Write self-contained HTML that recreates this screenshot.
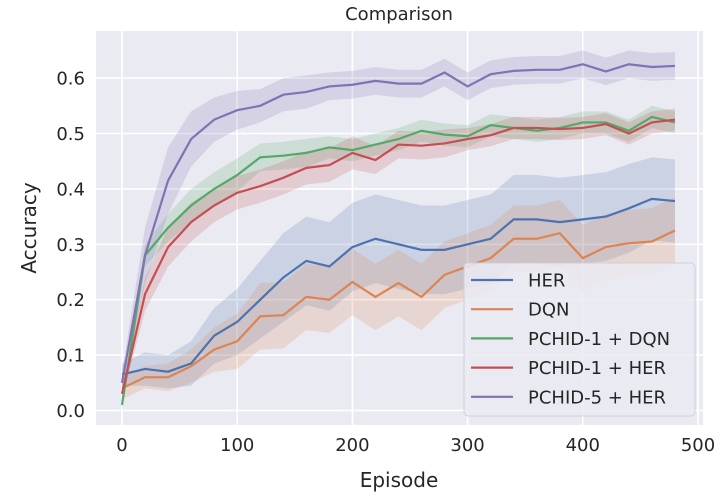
<!DOCTYPE html><html><head><meta charset="utf-8"><style>body{margin:0;background:#fff}svg{display:block}text{font-family:"DejaVu Sans",sans-serif;fill:#262626}</style></head><body>
<svg id="s" width="726" height="500" viewBox="0 0 726 500"></svg>
<script>
const X=v=>122+v*1.152, Y=v=>410.5-v*554;
const xs=[...Array(25)].map((_,i)=>i*20);
const D=[
["#4c72b0",[.065,.075,.07,.085,.135,.16,.2,.24,.27,.26,.295,.31,.3,.29,.29,.3,.31,.345,.345,.34,.345,.35,.365,.382,.378],[.02,.03,.03,.04,.05,.06,.07,.08,.08,.08,.08,.08,.08,.08,.08,.08,.08,.08,.08,.08,.08,.08,.08,.075,.075]],
["#dd8452",[.04,.06,.06,.08,.11,.125,.17,.172,.205,.2,.232,.205,.23,.205,.245,.26,.275,.31,.31,.32,.275,.295,.302,.305,.325],[.02,.02,.025,.03,.04,.05,.06,.06,.06,.06,.06,.06,.06,.06,.06,.06,.06,.06,.06,.06,.06,.06,.06,.06,.06]],
["#55a868",[.01,.28,.33,.37,.4,.425,.457,.46,.465,.475,.47,.48,.49,.505,.498,.495,.515,.51,.505,.51,.52,.52,.505,.53,.52],[.01,.02,.025,.03,.03,.03,.025,.025,.025,.02,.02,.02,.02,.02,.02,.02,.02,.02,.02,.02,.02,.02,.02,.02,.02]],
["#c44e52",[.03,.21,.295,.34,.37,.393,.405,.42,.438,.443,.465,.452,.48,.478,.482,.49,.497,.51,.51,.508,.51,.517,.5,.52,.525],[.01,.03,.035,.035,.03,.03,.03,.03,.03,.03,.03,.025,.025,.025,.025,.02,.02,.02,.02,.02,.02,.02,.02,.02,.02]],
["#8172b3",[.05,.28,.415,.49,.525,.542,.55,.57,.575,.585,.588,.595,.59,.59,.61,.585,.607,.613,.615,.615,.625,.612,.625,.62,.622],[.02,.05,.06,.05,.04,.035,.03,.03,.03,.025,.025,.025,.025,.025,.025,.025,.025,.025,.025,.025,.025,.025,.025,.025,.025]]];
let h='<rect x="96" y="31" width="607" height="394" fill="#eaeaf2"/>';
for(let v=0;v<=500;v+=100){const x=X(v);h+=`<line x1="${x}" x2="${x}" y1="31" y2="425" stroke="#fff" stroke-width="1.6"/><text x="${x}" y="451" font-size="18" text-anchor="middle">${v}</text>`;}
for(let i=0;i<=6;i++){const y=Y(i/10);h+=`<line x1="96" x2="703" y1="${y}" y2="${y}" stroke="#fff" stroke-width="1.6"/><text x="85" y="${y+6.5}" font-size="18" text-anchor="end">${(i/10).toFixed(1)}</text>`;}
D.forEach(([c,m,e])=>{let up=xs.map((x,i)=>X(x)+','+Y(m[i]+e[i])),lo=xs.map((x,i)=>X(x)+','+Y(m[i]-e[i])).reverse();h+=`<polygon points="${up.concat(lo).join(' ')}" fill="${c}" fill-opacity="0.2"/>`;});
D.forEach(([c,m])=>{h+=`<polyline points="${xs.map((x,i)=>X(x)+','+Y(m[i])).join(' ')}" fill="none" stroke="${c}" stroke-width="2.2"/>`;});
h+='<rect x="464" y="263" width="231" height="153" rx="4" fill="#eaeaf2" fill-opacity="0.85" stroke="#d0d0d8"/>';
["HER","DQN","PCHID-1 + DQN","PCHID-1 + HER","PCHID-5 + HER"].forEach((t,i)=>{const y=280+i*29.2;h+=`<line x1="471" x2="513" y1="${y}" y2="${y}" stroke="${D[i][0]}" stroke-width="2.2"/><text x="528" y="${y+6.5}" font-size="18">${t}</text>`;});
h+='<text x="399" y="20" font-size="18" text-anchor="middle">Comparison</text><text x="399" y="487" font-size="20" text-anchor="middle">Episode</text><text transform="translate(36,228) rotate(-90)" font-size="20" text-anchor="middle">Accuracy</text>';
document.getElementById('s').innerHTML=h;
</script></body></html>
